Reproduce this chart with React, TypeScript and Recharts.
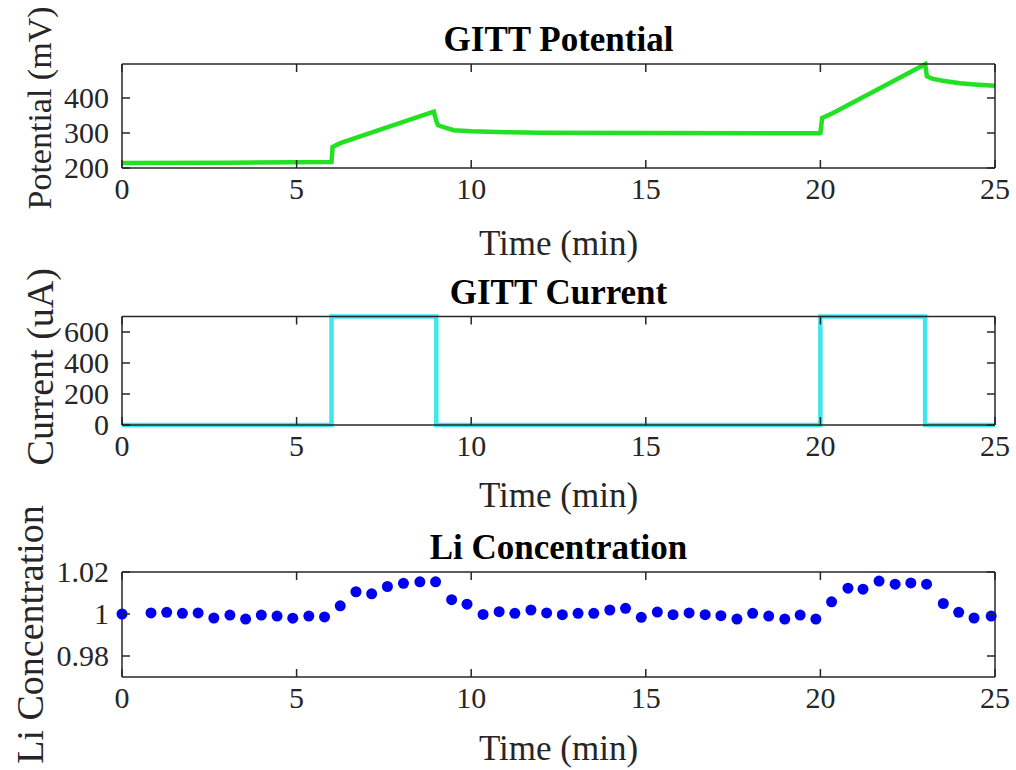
import React from 'react';
import { LineChart, Line, ScatterChart, Scatter, XAxis, YAxis } from 'recharts';

// ---------- data ----------
const timeTicks = [0, 5, 10, 15, 20, 25];

const potentialTime = [0, 3, 5.98, 6.0, 6.03, 6.25, 7.5, 8.93, 9.0, 9.05, 9.3, 9.5, 10, 11, 12, 15, 19.97, 20.0, 20.05, 20.36, 21.5, 23.0, 23.05, 23.2, 23.5, 24, 24.5, 25];
const potentialMv = [214, 215, 217, 217, 260, 271, 313, 361, 334, 322, 314, 308, 305, 302, 301, 300, 299, 300, 343, 357, 417, 496, 462, 455, 449, 442, 438, 435];
const potentialTicks = [200, 300, 400];

const currentTime = [0, 6, 6, 9, 9, 20, 20, 23, 23, 25];
const currentUa = [0, 0, 700, 700, 0, 0, 700, 700, 0, 0];
const currentTicks = [0, 200, 400, 600];

const liTime = [0, 0.83, 1.28, 1.73, 2.18, 2.63, 3.09, 3.54, 3.99, 4.44, 4.89, 5.35, 5.8, 6.25, 6.7, 7.15, 7.6, 8.06, 8.53, 8.98, 9.44, 9.88, 10.34, 10.8, 11.25, 11.71, 12.16, 12.61, 13.06, 13.51, 13.97, 14.42, 14.87, 15.33, 15.78, 16.24, 16.7, 17.15, 17.61, 18.06, 18.52, 18.98, 19.42, 19.87, 20.32, 20.79, 21.22, 21.68, 22.14, 22.59, 23.04, 23.52, 23.96, 24.4, 24.89];
const liConc = [1.0, 1.0005, 1.0008, 1.0003, 1.0005, 0.9981, 0.9995, 0.9976, 0.9995, 0.999, 0.998, 0.999, 0.9986, 1.0039, 1.0106, 1.0096, 1.0131, 1.0146, 1.0153, 1.0153, 1.0068, 1.0047, 0.9998, 1.0011, 1.0003, 1.0019, 1.0005, 0.9997, 1.0003, 1.0003, 1.0019, 1.0027, 0.9984, 1.0009, 0.9997, 1.0005, 0.9997, 0.9992, 0.9976, 1.0003, 0.999, 0.9976, 0.9995, 0.9976, 1.0058, 1.0123, 1.0118, 1.0157, 1.0142, 1.0148, 1.0142, 1.005, 1.0008, 0.9981, 0.999];
const liTicks = [0.98, 1.0, 1.02];

// ---------- style ----------
const FONT = '"Liberation Serif", "Times New Roman", serif';
const INK = '#262626';
const W = 1016;

type Panel = {
  top: number; height: number;
  mt: number; mb: number; ml: number; mr: number;
  title: string; ylabel: string; ylabelSize: number; ylabelX: number; ylabelDy: number; xlabelDy: number;
};

const P1: Panel = { top: 0, height: 280, mt: 64, mb: 112, ml: 122, mr: 21, title: 'GITT Potential', ylabel: 'Potential (mV)', ylabelSize: 34, ylabelX: 51, ylabelDy: -8, xlabelDy: 87 };
const P2: Panel = { top: 255, height: 280, mt: 61.5, mb: 110, ml: 122, mr: 21, title: 'GITT Current', ylabel: 'Current (uA)', ylabelSize: 38, ylabelX: 53, ylabelDy: -4, xlabelDy: 82 };
const P3: Panel = { top: 490, height: 280, mt: 82, mb: 93, ml: 122, mr: 21, title: 'Li Concentration', ylabel: 'Li Concentration', ylabelSize: 38, ylabelX: 43, ylabelDy: 10, xlabelDy: 83 };

const fmtLi = (v: number) => (Math.abs(v - 1) < 1e-9 ? '1' : v.toFixed(2));

function xTick(p: Panel) {
  const top = p.mt;
  const bottom = p.height - p.mb;
  return (props: any) => {
    const { x, payload } = props;
    return (
      <g key={`xt-${payload.value}`}>
        <line x1={x} x2={x} y1={bottom} y2={bottom - 8} stroke={INK} strokeWidth={1.5} />
        <line x1={x} x2={x} y1={top} y2={top + 8} stroke={INK} strokeWidth={1.5} />
        <text x={x} y={bottom + 31} textAnchor="middle" fontFamily={FONT} fontSize={30} fill={INK}>
          {payload.value}
        </text>
      </g>
    );
  };
}

function yTick(p: Panel, fmt?: (v: number) => string) {
  const left = p.ml;
  const right = W - p.mr;
  return (props: any) => {
    const { y, payload } = props;
    return (
      <g key={`yt-${payload.value}`}>
        <line x1={left} x2={left + 8} y1={y} y2={y} stroke={INK} strokeWidth={1.5} />
        <line x1={right} x2={right - 8} y1={y} y2={y} stroke={INK} strokeWidth={1.5} />
        <text x={left - 13} y={y + 10} textAnchor="end" fontFamily={FONT} fontSize={30} fill={INK}>
          {fmt ? fmt(payload.value) : payload.value}
        </text>
      </g>
    );
  };
}

function titleLabel(p: Panel) {
  return (props: any) => {
    const vb = props.viewBox || {};
    const cx = (vb.x ?? p.ml) + (vb.width ?? W - p.ml - p.mr) / 2;
    return (
      <text x={cx} y={p.mt - 13} textAnchor="middle" fontFamily={FONT} fontWeight="bold" fontSize={35} fill="#000">
        {p.title}
      </text>
    );
  };
}

function xLabel(p: Panel) {
  return (props: any) => {
    const vb = props.viewBox || {};
    const cx = (vb.x ?? p.ml) + (vb.width ?? W - p.ml - p.mr) / 2;
    return (
      <text x={cx} y={p.height - p.mb + p.xlabelDy} textAnchor="middle" fontFamily={FONT} fontSize={35} fill={INK}>
        Time (min)
      </text>
    );
  };
}

function yLabel(p: Panel) {
  return () => {
    const cy = (p.mt + (p.height - p.mb)) / 2 + p.ylabelDy;
    return (
      <text
        x={p.ylabelX}
        y={cy}
        textAnchor="middle"
        fontFamily={FONT}
        fontSize={p.ylabelSize}
        fill={INK}
        transform={`rotate(-90, ${p.ylabelX}, ${cy})`}
      >
        {p.ylabel}
      </text>
    );
  };
}

const potentialData = potentialTime.map((t, i) => ({ t, v: potentialMv[i] }));
const currentData = currentTime.map((t, i) => ({ t, v: currentUa[i] }));
const liData = liTime.map((t, i) => ({ t, v: liConc[i] }));

const axisLine = { stroke: INK, strokeWidth: 1.5 };

function commonAxes(p: Panel, ydomain: [number, number], yticks: number[], fmt?: (v: number) => string) {
  return [
    <XAxis
      key="xb"
      xAxisId="b"
      dataKey="t"
      type="number"
      domain={[0, 25]}
      ticks={timeTicks}
      interval={0}
      height={1}
      axisLine={axisLine}
      tickLine={false}
      tick={xTick(p)}
      label={xLabel(p)}
    />,
    <XAxis
      key="xt"
      xAxisId="t"
      orientation="top"
      type="number"
      domain={[0, 25]}
      ticks={timeTicks}
      height={1}
      axisLine={axisLine}
      tickLine={false}
      tick={false}
      label={titleLabel(p)}
    />,
    <YAxis
      key="yl"
      yAxisId="l"
      dataKey="v"
      type="number"
      domain={ydomain}
      ticks={yticks}
      interval={0}
      width={1}
      axisLine={axisLine}
      tickLine={false}
      tick={yTick(p, fmt)}
      label={yLabel(p)}
    />,
    <YAxis
      key="yr"
      yAxisId="r"
      orientation="right"
      type="number"
      domain={ydomain}
      ticks={yticks}
      width={1}
      axisLine={axisLine}
      tickLine={false}
      tick={false}
    />,
  ];
}

function margins(p: Panel) {
  return { top: p.mt - 1, right: p.mr - 1, bottom: p.mb - 1, left: p.ml - 1 };
}

function Box({ p, children }: { p: Panel; children: React.ReactNode }) {
  return (
    <div style={{ position: 'absolute', left: 0, top: p.top, width: W, height: p.height }}>{children}</div>
  );
}

export default function App() {
  return (
    <div style={{ position: 'absolute', left: 0, top: 0, width: W, height: 770, background: '#fff', overflow: 'hidden' }}>
      <Box p={P1}>
        <LineChart width={W} height={P1.height} data={potentialData} margin={margins(P1)}>
          {commonAxes(P1, [200, 497], potentialTicks)}
          <Line
            xAxisId="b"
            yAxisId="l"
            dataKey="v"
            type="linear"
            stroke="#22e022"
            strokeWidth={4.5}
            dot={false}
            isAnimationActive={false}
          />
        </LineChart>
      </Box>
      <Box p={P2}>
        <LineChart width={W} height={P2.height} data={currentData} margin={margins(P2)}>
          {commonAxes(P2, [0, 700], currentTicks)}
          <Line
            xAxisId="b"
            yAxisId="l"
            dataKey="v"
            type="linear"
            stroke="#3ee6ee"
            strokeWidth={4.5}
            dot={false}
            isAnimationActive={false}
          />
        </LineChart>
      </Box>
      <Box p={P3}>
        <ScatterChart width={W} height={P3.height} margin={margins(P3)}>
          {commonAxes(P3, [0.97, 1.02], liTicks, fmtLi)}
          <Scatter
            xAxisId="b"
            yAxisId="l"
            data={liData}
            dataKey="v"
            fill="#0000f0"
            isAnimationActive={false}
            shape={(props: any) => <circle cx={props.cx} cy={props.cy} r={5.5} fill="#0000f0" />}
          />
        </ScatterChart>
      </Box>
    </div>
  );
}
